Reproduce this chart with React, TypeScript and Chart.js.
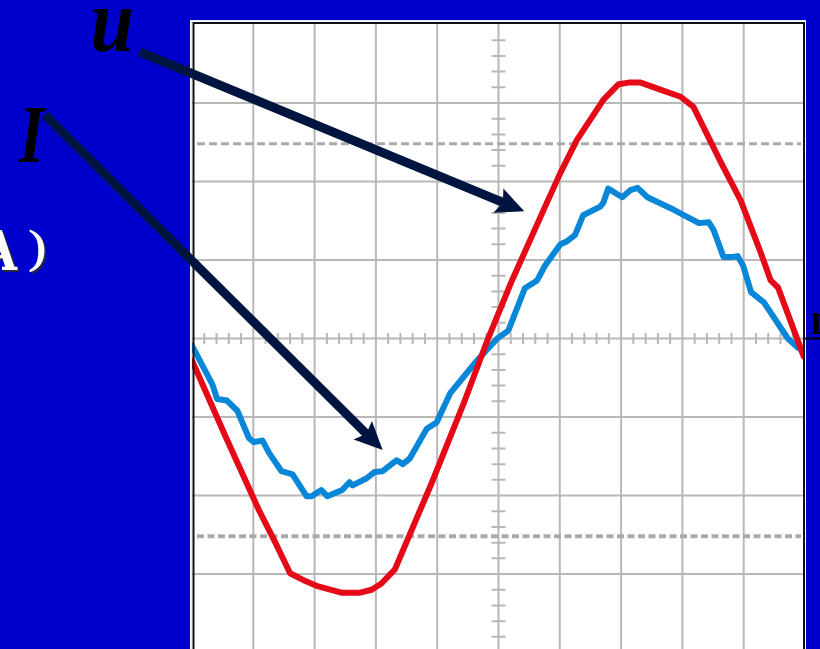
import React, { useEffect, useRef } from "react";
import { Chart, registerables } from "chart.js";

Chart.register(...registerables);

// ---- data (in screen divisions: x 0..10, y centered on 0) ----
const uX = [0, 0.56, 1.1, 1.36, 1.6, 1.85, 2.03, 2.45, 2.73, 2.93, 3.09, 3.31, 3.91, 4.45, 4.83, 5.22, 5.76, 6.01, 6.28, 6.71, 6.96, 7.12, 7.32, 7.64, 7.97, 8.18, 8.63, 8.95, 9.28, 9.44, 9.56, 9.98];
const uY = [-0.28, -1.27, -2.2, -2.6, -2.99, -3.09, -3.15, -3.24, -3.24, -3.2, -3.12, -2.94, -1.84, -0.79, 0, 0.74, 1.68, 2.11, 2.53, 3.04, 3.24, 3.26, 3.26, 3.17, 3.08, 2.95, 2.24, 1.76, 1.09, 0.74, 0.65, -0.23];

const iX = [0, 0.33, 0.41, 0.57, 0.74, 0.93, 1.01, 1.15, 1.26, 1.46, 1.64, 1.87, 1.95, 2.11, 2.21, 2.45, 2.57, 2.62, 2.85, 2.98, 3.11, 3.34, 3.44, 3.55, 3.83, 3.99, 4.21, 4.65, 4.98, 5.16, 5.43, 5.63, 5.76, 6.01, 6.12, 6.25, 6.38, 6.66, 6.71, 6.79, 7.02, 7.15, 7.27, 7.43, 7.86, 8.27, 8.43, 8.51, 8.67, 8.82, 8.9, 8.99, 9.12, 9.33, 9.72, 9.89, 9.98];
const iY = [-0.09, -0.58, -0.77, -0.79, -0.92, -1.27, -1.32, -1.3, -1.46, -1.69, -1.73, -2.01, -2.01, -1.93, -2.01, -1.93, -1.83, -1.87, -1.78, -1.7, -1.69, -1.55, -1.6, -1.53, -1.15, -1.07, -0.7, -0.28, 0, 0.1, 0.64, 0.74, 0.93, 1.2, 1.24, 1.32, 1.57, 1.68, 1.73, 1.91, 1.8, 1.89, 1.92, 1.8, 1.64, 1.47, 1.48, 1.38, 1.04, 1.04, 1.05, 0.93, 0.59, 0.46, 0, -0.12, -0.15];

const xGrid = [1, 2, 3, 4, 5, 6, 7, 8, 9];
const yGrid = [-3, -2, -1, 0, 1, 2, 3];
const dashedLevels = [2.48, -2.52];
const X_MIN = 0;
const X_MAX = 10;
const Y_MIN = -3.955;
const Y_MAX = 4.032;

// annotation arrows (data units)
const arrowU = { from: [-0.85, 3.65], to: [5.42, 1.62] };
const arrowI = { from: [-2.4, 2.85], to: [3.11, -1.42] };

const labelU = "u";
const labelI = "I";
const labelA = "A";
const labelParen = ")";
const labelEdge = "n";

const BLUE_BG = "rgb(0,0,204)";
const RED = "rgb(228,10,24)";
const CYAN = "rgb(8,134,216)";
const GRID = "rgb(184,184,184)";
const NAVY = "rgb(0,20,64)";

function fitText(
  ctx: CanvasRenderingContext2D,
  text: string,
  font: string,
  x0: number,
  x1: number,
  y0: number,
  y1: number,
  fill: string,
  shadow?: string
) {
  ctx.save();
  ctx.font = font;
  ctx.textAlign = "left";
  ctx.textBaseline = "alphabetic";
  const m = ctx.measureText(text);
  const inkL = -m.actualBoundingBoxLeft;
  const inkR = m.actualBoundingBoxRight;
  const inkT = -m.actualBoundingBoxAscent;
  const inkB = m.actualBoundingBoxDescent;
  const sx = (x1 - x0) / (inkR - inkL);
  const sy = (y1 - y0) / (inkB - inkT);
  ctx.translate(x0 - inkL * sx, y0 - inkT * sy);
  ctx.scale(sx, sy);
  if (shadow) {
    ctx.fillStyle = shadow;
    ctx.fillText(text, 2 / sx, 2 / sy);
  }
  ctx.fillStyle = fill;
  ctx.fillText(text, 0, 0);
  ctx.restore();
}

function drawArrow(
  ctx: CanvasRenderingContext2D,
  x1: number,
  y1: number,
  x2: number,
  y2: number
) {
  const w = 9;
  const headLen = 28;
  const headHalf = 13;
  const notch = 5;
  const dx = x2 - x1;
  const dy = y2 - y1;
  const L = Math.hypot(dx, dy);
  const ux = dx / L;
  const uy = dy / L;
  const px = -uy;
  const py = ux;
  const bx = x2 - ux * headLen;
  const by = y2 - uy * headLen;
  ctx.save();
  ctx.strokeStyle = NAVY;
  ctx.fillStyle = NAVY;
  ctx.lineWidth = w;
  ctx.lineCap = "butt";
  ctx.beginPath();
  ctx.moveTo(x1, y1);
  ctx.lineTo(bx + ux * (notch + 3), by + uy * (notch + 3));
  ctx.stroke();
  ctx.beginPath();
  ctx.moveTo(x2, y2);
  ctx.lineTo(bx + px * headHalf, by + py * headHalf);
  ctx.lineTo(bx + ux * notch, by + uy * notch);
  ctx.lineTo(bx - px * headHalf, by - py * headHalf);
  ctx.closePath();
  ctx.fill();
  ctx.restore();
}

const scopePlugin = {
  id: "scope",
  beforeDraw(chart: any) {
    const ctx: CanvasRenderingContext2D = chart.ctx;
    const { left, right, top, bottom } = chart.chartArea;
    const xs = chart.scales.x;
    const ys = chart.scales.y;
    ctx.save();
    ctx.fillStyle = BLUE_BG;
    ctx.fillRect(0, 0, chart.width, chart.height);
    ctx.fillStyle = "#ffffff";
    ctx.fillRect(left - 2, top - 2, right - left + 3, bottom - top + 2);

    // grid
    ctx.strokeStyle = GRID;
    ctx.lineWidth = 2;
    ctx.beginPath();
    for (const v of xGrid) {
      const px = xs.getPixelForValue(v);
      ctx.moveTo(px, top);
      ctx.lineTo(px, bottom);
    }
    for (const v of yGrid) {
      const py = ys.getPixelForValue(v);
      ctx.moveTo(left, py);
      ctx.lineTo(right, py);
    }
    ctx.stroke();

    // minor ticks on centre axes
    const cx = xs.getPixelForValue(5);
    const cy = ys.getPixelForValue(0);
    ctx.beginPath();
    for (let k = 1; k < 50; k++) {
      if (k % 5 === 0) continue;
      const px = xs.getPixelForValue(k * 0.2);
      ctx.moveTo(px, cy - 5.5);
      ctx.lineTo(px, cy + 5.5);
    }
    for (let k = -25; k <= 25; k++) {
      if (k % 5 === 0) continue;
      const py = ys.getPixelForValue(k * 0.2);
      if (py < top + 4 || py > bottom) continue;
      ctx.moveTo(cx - 7, py);
      ctx.lineTo(cx + 7, py);
    }
    ctx.stroke();

    // dashed reference levels
    ctx.strokeStyle = "rgb(170,170,170)";
    dashedLevels.forEach((lv, idx) => {
      const py = ys.getPixelForValue(lv);
      ctx.lineWidth = idx === 0 ? 3 : 4;
      ctx.setLineDash(idx === 0 ? [8, 4] : [7, 3.5]);
      ctx.beginPath();
      ctx.moveTo(left + 5, py);
      ctx.lineTo(right - 4, py);
      ctx.stroke();
    });
    ctx.setLineDash([]);
    ctx.restore();
  },
  afterDatasetsDraw(chart: any) {
    const ctx: CanvasRenderingContext2D = chart.ctx;
    const { left, right, top, bottom } = chart.chartArea;
    const xs = chart.scales.x;
    const ys = chart.scales.y;
    ctx.save();
    // frame
    ctx.strokeStyle = "rgb(235,235,245)";
    ctx.lineWidth = 1;
    ctx.beginPath();
    ctx.moveTo(left - 0.5, bottom);
    ctx.lineTo(left - 0.5, top - 1.5);
    ctx.lineTo(right + 1, top - 1.5);
    ctx.stroke();
    ctx.strokeStyle = "#111111";
    ctx.lineWidth = 2;
    ctx.beginPath();
    ctx.moveTo(left + 1.5, bottom);
    ctx.lineTo(left + 1.5, top + 1);
    ctx.lineTo(right - 1, top + 1);
    ctx.lineTo(right - 1, bottom);
    ctx.stroke();
    // axis line continuing into right strip
    const cy = ys.getPixelForValue(0);
    ctx.strokeStyle = "#000000";
    ctx.beginPath();
    ctx.moveTo(right, cy);
    ctx.lineTo(chart.width, cy);
    ctx.stroke();
    ctx.restore();

    // arrows
    drawArrow(
      ctx,
      xs.getPixelForValue(arrowU.from[0]),
      ys.getPixelForValue(arrowU.from[1]),
      xs.getPixelForValue(arrowU.to[0]),
      ys.getPixelForValue(arrowU.to[1])
    );
    drawArrow(
      ctx,
      xs.getPixelForValue(arrowI.from[0]),
      ys.getPixelForValue(arrowI.from[1]),
      xs.getPixelForValue(arrowI.to[0]),
      ys.getPixelForValue(arrowI.to[1])
    );

    // labels
    fitText(ctx, labelU, 'italic bold 90px "Liberation Serif"', 93, 132, 9, 52, "#000000");
    fitText(ctx, labelI, 'italic bold 84px "Liberation Serif"', 18, 47, 107, 162, "#000000");
    fitText(ctx, labelA, 'bold 54px "DejaVu Serif"', -19, 18, 230, 270, "#ffffff", "rgba(40,40,60,0.9)");
    fitText(ctx, labelParen, '50px "DejaVu Serif"', 29, 45, 229, 272, "#ffffff", "rgba(40,40,60,0.9)");
    fitText(ctx, labelEdge, 'bold 46px "Liberation Serif"', 811, 832, 312, 334, "#000000");
  },
};

export default function App() {
  const ref = useRef<HTMLCanvasElement | null>(null);
  useEffect(() => {
    if (!ref.current) return;
    const chart = new Chart(ref.current, {
      type: "line",
      data: {
        datasets: [
          {
            label: "u",
            data: uX.map((x, i) => ({ x, y: uY[i] })),
            borderColor: RED,
            borderWidth: 6,
            pointRadius: 0,
            tension: 0,
            borderJoinStyle: "round",
            borderCapStyle: "round",
            clip: 0,
          },
          {
            label: "I",
            data: iX.map((x, i) => ({ x, y: iY[i] })),
            borderColor: CYAN,
            borderWidth: 6,
            pointRadius: 0,
            tension: 0,
            borderJoinStyle: "round",
            borderCapStyle: "round",
            clip: 0,
          },
        ],
      },
      options: {
        responsive: false,
        animation: false,
        devicePixelRatio: 1,
        layout: { padding: { left: 192, right: 15, top: 22, bottom: 0 } },
        plugins: { legend: { display: false }, tooltip: { enabled: false } },
        scales: {
          x: { type: "linear", min: X_MIN, max: X_MAX, display: false },
          y: { type: "linear", min: Y_MIN, max: Y_MAX, display: false },
        },
      },
      plugins: [scopePlugin],
    } as any);
    return () => chart.destroy();
  }, []);
  return (
    <div style={{ position: "fixed", left: 0, top: 0, width: 820, height: 649, background: BLUE_BG, overflow: "hidden" }}>
      <canvas ref={ref} width={820} height={649} style={{ display: "block", width: 820, height: 649 }} />
    </div>
  );
}
